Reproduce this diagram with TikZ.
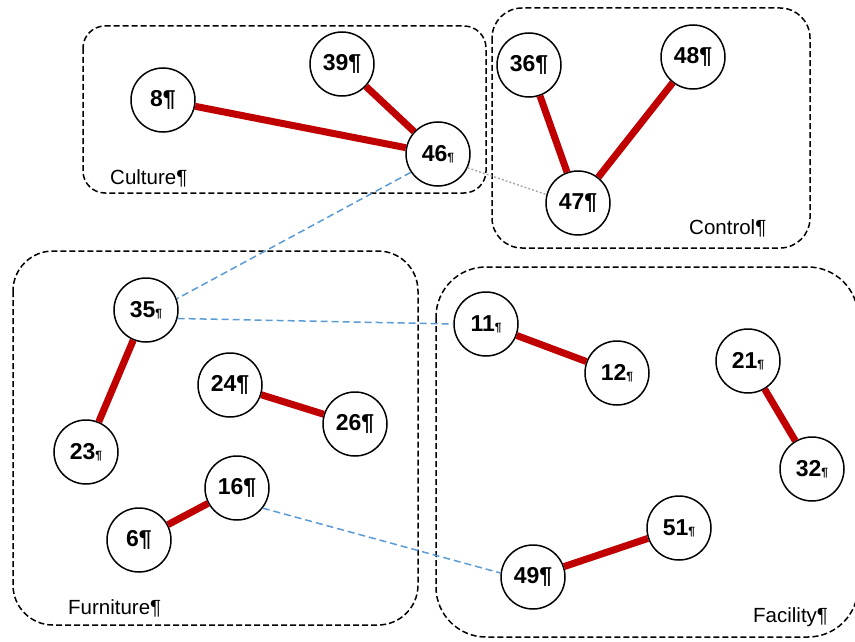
\documentclass[tikz,border=0pt]{standalone}
\usepackage{fontspec}
\setmainfont{Liberation Sans}
\definecolor{tieRed}{HTML}{C00000}
\definecolor{linkBlue}{HTML}{5B9BD5}
\definecolor{faintGray}{HTML}{A6A6A6}
\newcommand\smallpil{{\fontsize{12}{12}\selectfont ¶}}
\begin{document}
\begin{tikzpicture}[x=1pt,y=-1pt,
  vert/.style={circle, draw, fill=white, line width=1.5pt, minimum size=64pt,
    inner sep=0pt, font=\fontsize{23}{23}\selectfont\bfseries},
  tie/.style={draw=tieRed, line width=7pt},
  group/.style={draw, dash pattern=on 6pt off 3pt, line width=1.5pt},
  link/.style={draw=linkBlue, dash pattern=on 7pt off 4pt, line width=1.5pt},
  faint/.style={draw=faintGray, dash pattern=on 2pt off 2pt, line width=1.4pt},
  grouplabel/.style={font=\fontsize{20.5}{20.5}\selectfont, anchor=base west, inner sep=0pt}]
  \useasboundingbox (0,0) rectangle (855,642);

  % category frames
  \draw[group, rounded corners=22pt] (83,26) rectangle (486,193);
  \draw[group, rounded corners=30pt] (492,8) rectangle (810,248);
  \draw[group, rounded corners=40pt] (13,251) rectangle (418,625);
  \draw[group, rounded corners=50pt] (436,267) rectangle (858,637);

  \node[grouplabel] (lcult) at (110,184) {Culture¶};
  \node[grouplabel] (lctrl) at (689,234) {Control¶};
  \node[grouplabel] (lfurn) at (68,614) {Furniture¶};
  \node[grouplabel] (lfac) at (753,622) {Facility¶};

  % items
  \node[vert] (n8)  at (163,100) {8¶};
  \node[vert] (n39) at (342,64)  {39¶};
  \node[vert] (n46) at (438,154) {46\smallpil};
  \node[vert] (n36) at (529,65)  {36¶};
  \node[vert] (n48) at (693,57)  {48¶};
  \node[vert] (n47) at (578,203) {47¶};
  \node[vert] (n35) at (146,310) {35\smallpil};
  \node[vert] (n23) at (86,452)  {23\smallpil};
  \node[vert] (n24) at (230,385) {24¶};
  \node[vert] (n26) at (355,424) {26¶};
  \node[vert] (n16) at (237,488) {16¶};
  \node[vert] (n6)  at (139,540) {6¶};
  \node[vert] (n11) at (486,324) {11\smallpil};
  \node[vert] (n12) at (617,373) {12\smallpil};
  \node[vert] (n21) at (748,361) {21\smallpil};
  \node[vert] (n32) at (812,469) {32\smallpil};
  \node[vert] (n51) at (679,528) {51\smallpil};
  \node[vert] (n49) at (533,577) {49¶};

  % strong ties inside categories
  \draw[tie] (n8) -- (n46);
  \draw[tie] (n39) -- (n46);
  \draw[tie] (n36) -- (n47);
  \draw[tie] (n48) -- (n47);
  \draw[tie] (n35) -- (n23);
  \draw[tie] (n24) -- (n26);
  \draw[tie] (n16) -- (n6);
  \draw[tie] (n11) -- (n12);
  \draw[tie] (n21) -- (n32);
  \draw[tie] (n51) -- (n49);

  % weak links across categories
  \draw[link] (n46.214) -- (n35.20);
  \draw[link] (n35.345) -- (n11.180);
  \draw[link] (n16.322) -- (n49.173);
  \draw[faint] (n46.-25) -- (n47.165);
\end{tikzpicture}
\end{document}
